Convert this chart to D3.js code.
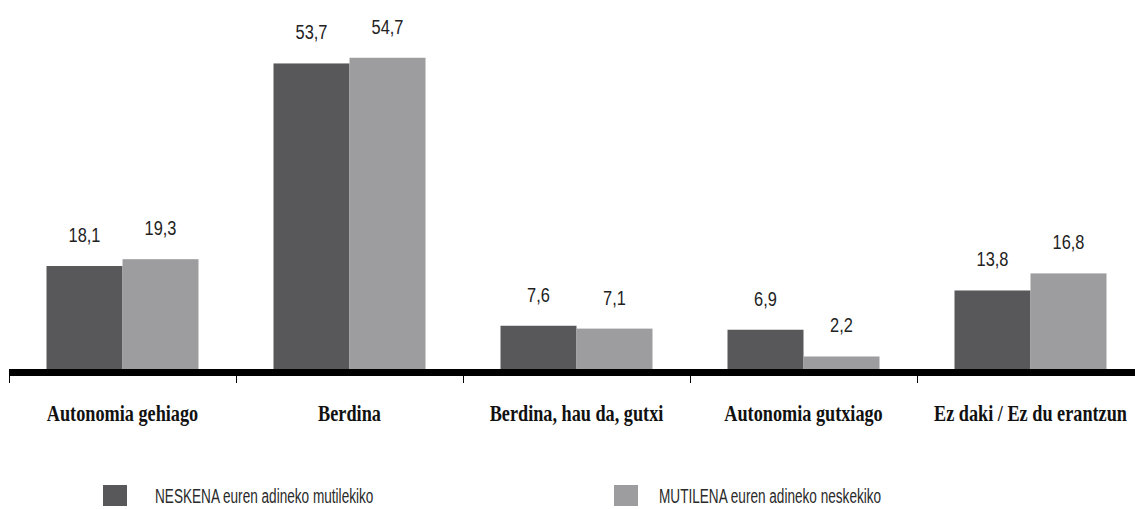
<!DOCTYPE html>
<html>
<head>
<meta charset="utf-8">
<script src="https://cdnjs.cloudflare.com/ajax/libs/d3/7.8.5/d3.min.js"></script>
<style>
  body { margin: 0; background: #fff; }
  .val { font-family: "Liberation Sans", sans-serif; font-size: 21px; fill: #222; }
  .cat { font-family: "Liberation Serif", "Times New Roman", serif; font-weight: bold; font-size: 24px; fill: #111; }
  .leg { font-family: "Liberation Sans", sans-serif; font-size: 20px; fill: #2a2a2a; }
</style>
</head>
<body>
<div id="chart"></div>
<script>
// data
var categories = ["Autonomia gehiago", "Berdina", "Berdina, hau da, gutxi", "Autonomia gutxiago", "Ez daki / Ez du erantzun"];
var neskena = [18.1, 53.7, 7.6, 6.9, 13.8];
var mutilena = [19.3, 54.7, 7.1, 2.2, 16.8];
var seriesNames = ["NESKENA euren adineko mutilekiko", "MUTILENA euren adineko neskekiko"];
var colors = ["#58585a", "#9d9d9f"];

var W = 1135, H = 509;
var baseY = 369;

var svg = d3.select("#chart")
  .append("svg")
    .attr("width", W)
    .attr("height", H);

// x scale over the categories, one band per group
var x = d3.scaleBand()
  .domain(categories)
  .range([9, 9 + 5 * 227])
  .paddingInner(0)
  .paddingOuter(0);

var x1 = d3.scaleBand()
  .domain([0, 1])
  .range([0, x.bandwidth()])
  .paddingOuter(0.4934)
  .paddingInner(0);

var y = d3.scaleLinear()
  .domain([0, 60])
  .range([baseY, baseY - 60 * 5.69]);

var data = categories.map(function(c, i) {
  return {cat: c, vals: [neskena[i], mutilena[i]]};
});

var groups = svg.selectAll(".grp")
  .data(data)
  .enter()
  .append("g")
    .attr("class", "grp")
    .attr("transform", function(d) { return "translate(" + x(d.cat) + ",0)"; });

groups.selectAll("rect")
  .data(function(d) { return d.vals; })
  .enter()
  .append("rect")
    .attr("x", function(d, i) { return x1(i); })
    .attr("width", x1.bandwidth())
    .attr("y", function(d) { return y(d); })
    .attr("height", function(d) { return y(0) - y(d); })
    .attr("fill", function(d, i) { return colors[i]; });

// value labels, squeezed to look condensed
groups.selectAll(".val")
  .data(function(d) { return d.vals; })
  .enter()
  .append("text")
    .attr("class", "val")
    .attr("text-anchor", "middle")
    .attr("transform", function(d, i) {
      return "translate(" + (x1(i) + x1.bandwidth() / 2) + "," + (y(d) - 24) + ") scale(0.78,1)";
    })
    .text(function(d) { return d3.format(".1f")(d).replace(".", ","); });

// thick baseline
svg.append("line")
  .attr("x1", 9)
  .attr("x2", W)
  .attr("y1", y(0) + 3.5)
  .attr("y2", y(0) + 3.5)
  .attr("stroke", "#000")
  .attr("stroke-width", 7);

// ticks on the band boundaries
var bounds = categories.map(function(c) { return x(c); });
svg.selectAll(".tick")
  .data(bounds)
  .enter()
  .append("line")
    .attr("class", "tick")
    .attr("x1", function(d) { return Math.round(d) + 0.5; })
    .attr("x2", function(d) { return Math.round(d) + 0.5; })
    .attr("y1", y(0) + 7)
    .attr("y2", y(0) + 14)
    .attr("stroke", "#000")
    .attr("stroke-width", 1);

// category labels, condensed serif
svg.selectAll(".cat")
  .data(categories)
  .enter()
  .append("text")
    .attr("class", "cat")
    .attr("text-anchor", "middle")
    .attr("transform", function(d) {
      return "translate(" + (x(d) + x.bandwidth() / 2) + ",421) scale(0.76,1)";
    })
    .text(function(d) { return d; });

// legend
var legX = [103, 614];
var leg = svg.selectAll(".legitem")
  .data(seriesNames)
  .enter()
  .append("g")
    .attr("class", "legitem")
    .attr("transform", function(d, i) { return "translate(" + legX[i] + ",485)"; });

leg.append("rect")
  .attr("width", 24)
  .attr("height", 21)
  .attr("fill", function(d, i) { return colors[i]; });

leg.append("text")
  .attr("class", "leg")
  .attr("transform", function(d, i) { return "translate(" + (i === 0 ? 52 : 45) + ",18) scale(0.68,1)"; })
  .text(function(d) { return d; });
</script>
</body>
</html>
